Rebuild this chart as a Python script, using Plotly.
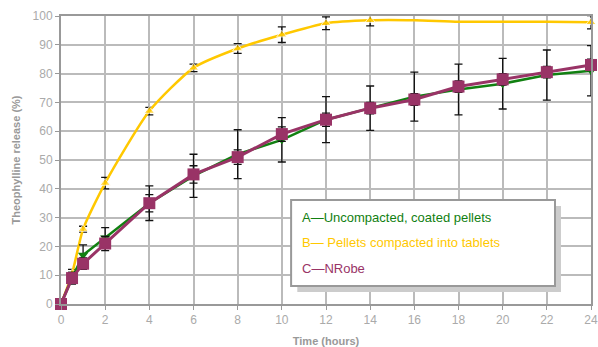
import plotly.graph_objects as go

time = [0, 0.5, 1, 2, 4, 6, 8, 10, 12, 14, 16, 18, 20, 22, 24]
a_vals = [0, 9, 17, 23, 35, 44.5, 52, 57, 64, 68, 72, 74.5, 76.5, 79.5, 81]
a_err = [0, 2, 3.5, 3.5, 6, 7.5, 8.5, 7.7, 8, 7.7, 8.5, 8.8, 8.8, 8.7, 8.7]
b_vals = [0, 10.5, 26, 42, 67, 82, 88.7, 93.5, 97.5, 98.5, 98.5, 98, 98, 98, 97.8]
b_err = [0, 1.5, 1, 2, 1.3, 1.3, 1.7, 2.7, 2.2, 1.9, 0, 0, 0, 0, 2.3]
c_vals = [0, 9, 14, 21, 35, 45, 51, 59, 64, 68, 71, 75.5, 78, 80.5, 83]
c_err = [0, 2, 2, 2.5, 3, 3, 2.5, 2.5, 2.3, 2, 2, 2, 2, 2, 2]
legend_labels = ["A\u2014Uncompacted, coated pellets", "B\u2014 Pellets compacted into tablets", "C\u2014NRobe"]

GREEN = "#118011"
YELLOW = "#ffc800"
PURPLE = "#993366"

def err(e):
    return dict(type="data", array=e, visible=True, color="#111111", thickness=1.3, width=4)

fig = go.Figure()
b_sizes = [0 if (16 <= t <= 22) else 9 for t in time]
fig.add_trace(go.Scatter(x=time, y=b_vals, mode="lines+markers", error_y=err(b_err),
                         line=dict(color=YELLOW, width=2.5, shape="spline", smoothing=0.6),
                         marker=dict(symbol="triangle-up", size=b_sizes, color=YELLOW),
                         cliponaxis=False))
fig.add_trace(go.Scatter(x=time, y=a_vals, mode="lines+markers", error_y=err(a_err),
                         line=dict(color=GREEN, width=2.5),
                         marker=dict(symbol="triangle-down", size=9, color=GREEN),
                         cliponaxis=False))
fig.add_trace(go.Scatter(x=time, y=c_vals, mode="lines+markers", error_y=err(c_err),
                         line=dict(color=PURPLE, width=3),
                         marker=dict(symbol="square", size=12, color=PURPLE),
                         cliponaxis=False))

# legend box with shadow (pixel-derived positions)
fig.add_shape(type="rect", xref="x", yref="y", x0=10.7, x1=22.64, y0=4.2, y1=34.0,
              fillcolor="#cccccc", line=dict(width=0), layer="above")
fig.add_shape(type="rect", xref="x", yref="y", x0=10.42, x1=22.37, y0=6.25, y1=36.1,
              fillcolor="white", line=dict(color="#999999", width=2), layer="above")
for lab, col, yv in zip(legend_labels, [GREEN, YELLOW, PURPLE], [30.2, 21.2, 12.2]):
    fig.add_annotation(x=10.83, y=yv, xref="x", yref="y", text=lab, showarrow=False,
                       xanchor="left", yanchor="middle",
                       font=dict(family="Liberation Sans, Arial", size=13, color=col))

fig.update_layout(
    width=598, height=347, showlegend=False,
    margin=dict(l=61, r=7, t=16, b=43),
    plot_bgcolor="white", paper_bgcolor="white",
    font=dict(family="Liberation Sans, Arial", color="#aaaaaa", size=12),
)
fig.update_xaxes(range=[0, 24], tickvals=list(range(0, 25, 2)), showgrid=True, automargin=False,
                 gridcolor="#bbbbbb", gridwidth=1.5, zeroline=False,
                 showline=True, linecolor="#999999", linewidth=2, mirror=True,
                 ticks="outside", ticklen=4, tickcolor="#999999",
                 title=dict(text="<b>Time (hours)</b>", font=dict(size=11, color="#999999"), standoff=11))
fig.update_yaxes(range=[0, 100], tickvals=list(range(0, 101, 10)), showgrid=True, automargin=False,
                 gridcolor="#bbbbbb", gridwidth=1.5, zeroline=False,
                 showline=True, linecolor="#999999", linewidth=2, mirror=True,
                 ticks="outside", ticklen=4, tickcolor="#999999",
                 title=dict(text="<b>Theophylline release (%)</b>", font=dict(size=11, color="#999999"), standoff=10))

fig.write_html("out.html", config={"displayModeBar": False},
               post_script="document.body.style.margin='0';document.body.style.overflow='hidden';")
